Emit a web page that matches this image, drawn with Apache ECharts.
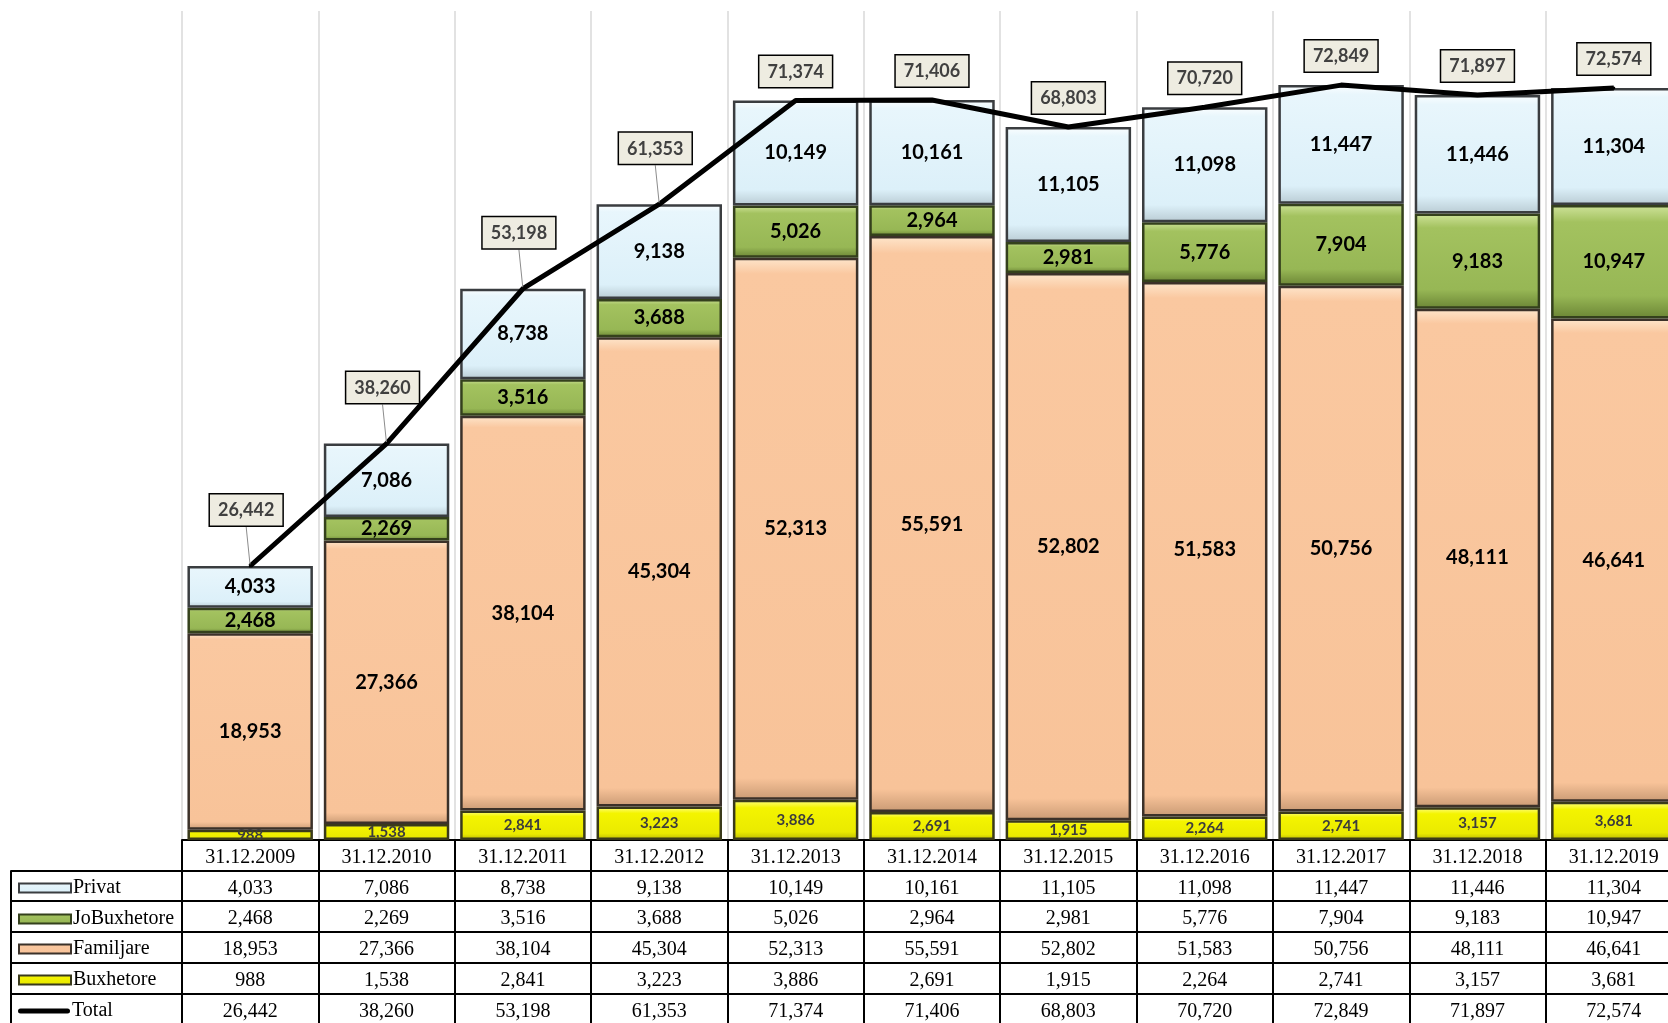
<!DOCTYPE html>
<html>
<head>
<meta charset="utf-8">
<script src="https://cdn.jsdelivr.net/npm/echarts@6/dist/echarts.min.js"></script>
<style>
  html, body { margin: 0; padding: 0; background: #fff; }
  #chart { width: 1668px; height: 1023px; }
</style>
</head>
<body>
<div id="chart"></div>
<script>
const categories = ['31.12.2009', '31.12.2010', '31.12.2011', '31.12.2012', '31.12.2013', '31.12.2014',
    '31.12.2015', '31.12.2016', '31.12.2017', '31.12.2018', '31.12.2019'];
const privat = [4033, 7086, 8738, 9138, 10149, 10161, 11105, 11098, 11447, 11446, 11304];
const joBuxhetore = [2468, 2269, 3516, 3688, 5026, 2964, 2981, 5776, 7904, 9183, 10947];
const familjare = [18953, 27366, 38104, 45304, 52313, 55591, 52802, 51583, 50756, 48111, 46641];
const buxhetore = [988, 1538, 2841, 3223, 3886, 2691, 1915, 2264, 2741, 3157, 3681];
const totals = [26442, 38260, 53198, 61353, 71374, 71406, 68803, 70720, 72849, 71897, 72574];

const fmt = v => Number(v).toLocaleString('en-US');
const tableTop = 840;
const rowH = 30.7;
const liftBelow = 65000; // lower totals had their boxes dragged up in the original

const chart = echarts.init(document.getElementById('chart'));

const grad = (stops) => new echarts.graphic.LinearGradient(0, 0, 0, 1,
    stops.map(c => ({ offset: c[0], color: c[1] })));

const barLabel = {
    show: true,
    position: 'inside',
    fontFamily: 'Lato',
    fontWeight: 'bold',
    fontSize: 20,
    color: '#000',
    formatter: p => fmt(p.value),
};

function barSeries(name, data, fill, border, label) {
    return {
        name: name,
        type: 'bar',
        stack: 'total',
        barWidth: '92%',
        data: data,
        itemStyle: { color: fill, borderColor: border, borderWidth: 2.5 },
        label: Object.assign({}, barLabel, label || {}),
        z: 2,
    };
}

// table rows under the plot: one axis per row, labels pulled from the arrays
const tableRows = [null, privat, joBuxhetore, familjare, buxhetore, totals];
const rowAxes = tableRows.map((row, k) => ({
    type: 'category',
    gridIndex: 0,
    position: 'bottom',
    offset: Math.round(k * rowH),
    data: categories,
    axisLine: { show: true, onZero: false, lineStyle: { color: '#000', width: 2 } },
    axisTick: k === 0
        ? { show: true, interval: 0, length: 190, lineStyle: { color: '#000', width: 2 } }
        : { show: false },
    splitLine: k === 0
        ? { show: true, interval: 0, lineStyle: { color: '#d9d9d9', width: 1.5 } }
        : { show: false },
    axisLabel: {
        interval: 0,
        margin: 8,
        fontFamily: 'Liberation Serif',
        fontSize: 20,
        color: '#000',
        formatter: (value, index) => row ? fmt(row[index]) : value,
    },
}));

// left column of the table (legend cells)
const legendAxes = [1, 2, 3, 4, 5].map((k, i) => ({
    type: 'category',
    gridIndex: 1,
    position: 'bottom',
    offset: Math.round(k * rowH),
    data: [''],
    axisLine: { show: true, onZero: false, lineStyle: { color: '#000', width: 2 } },
    axisTick: i === 0
        ? { show: true, interval: 0, length: 170, lineStyle: { color: '#000', width: 2 } }
        : { show: false },
    axisLabel: { show: false },
    splitLine: { show: false },
}));

const legendNames = ['Privat', 'JoBuxhetore', 'Familjare', 'Buxhetore', 'Total'];
const totalIcon = 'path://M2.5,0 L49.5,0 A2.5,2.5 0 0 1 49.5,5 L2.5,5 A2.5,2.5 0 0 1 2.5,0 Z';
const legends = legendNames.map((name, i) => ({
    orient: 'vertical',
    left: 18,
    top: Math.round(tableTop + (i + 1) * rowH + rowH / 2 - 8),
    itemWidth: 52,
    itemHeight: 9,
    itemGap: 0,
    selectedMode: false,
    padding: 0,
    textStyle: { fontFamily: 'Liberation Serif', fontSize: 20, color: '#000', padding: [0, 0, 0, -3] },
    data: [name === 'Total'
        ? { name: name, icon: totalIcon, itemStyle: { color: '#000', borderWidth: 0 } }
        : { name: name, icon: 'rect' }],
}));

const option = {
    animation: false,
    backgroundColor: '#fff',
    grid: [
        { left: 182, right: -14, top: 11, bottom: 1023 - tableTop, containLabel: false, outerBoundsMode: 'none' },
        { left: 11, width: 171, top: 11, bottom: 1023 - tableTop, containLabel: false, outerBoundsMode: 'none' },
    ],
    xAxis: rowAxes.concat(legendAxes),
    yAxis: [
        { type: 'value', gridIndex: 0, min: 0, max: 80000, show: false },
        { type: 'value', gridIndex: 1, min: 0, max: 1, show: false },
    ],
    legend: legends,
    series: [
        barSeries('Buxhetore', buxhetore,
            grad([[0, '#ffff8a'], [0.2, '#f4f400'], [0.8, '#eaea00'], [1, '#b8b800']]), '#3a3a1a',
            { fontSize: 15, color: '#3c3c3c' }),
        barSeries('Familjare', familjare,
            grad([[0, '#fee6cc'], [0.03, '#fac8a0'], [0.96, '#f8c399'], [1, '#c99a74']]), '#3b3129'),
        barSeries('JoBuxhetore', joBuxhetore,
            grad([[0, '#cfe39a'], [0.15, '#a3c25f'], [0.8, '#97b755'], [1, '#6b8535']]), '#34401c'),
        barSeries('Privat', privat,
            grad([[0, '#fbfeff'], [0.08, '#e8f6fc'], [0.85, '#dcf0f9'], [1, '#b9cbd3']]), '#3a3d40'),
        {
            name: 'Total',
            type: 'line',
            data: totals.map(v => ({ value: v, labelLine: { show: v < liftBelow } })),
            symbol: 'circle',
            symbolSize: 3,
            itemStyle: { color: '#000' },
            lineStyle: { color: '#000', width: 5 },
            z: 5,
            label: {
                show: true,
                position: 'top',
                distance: 12,
                fontFamily: 'Lato',
                fontWeight: 'bold',
                fontSize: 18,
                color: '#404040',
                backgroundColor: '#eeece1',
                borderColor: '#000',
                borderWidth: 1.5,
                padding: [7, 8, 6, 8],
                formatter: p => fmt(p.value),
            },
            labelLine: { show: true, lineStyle: { color: '#8c8c8c', width: 1 } },
            labelLayout: params => totals[params.dataIndex] < liftBelow
                ? { dx: -4, dy: -27 }
                : {},
        },
    ],
};

chart.setOption(option);
window.addEventListener('resize', () => chart.resize());
</script>
</body>
</html>
